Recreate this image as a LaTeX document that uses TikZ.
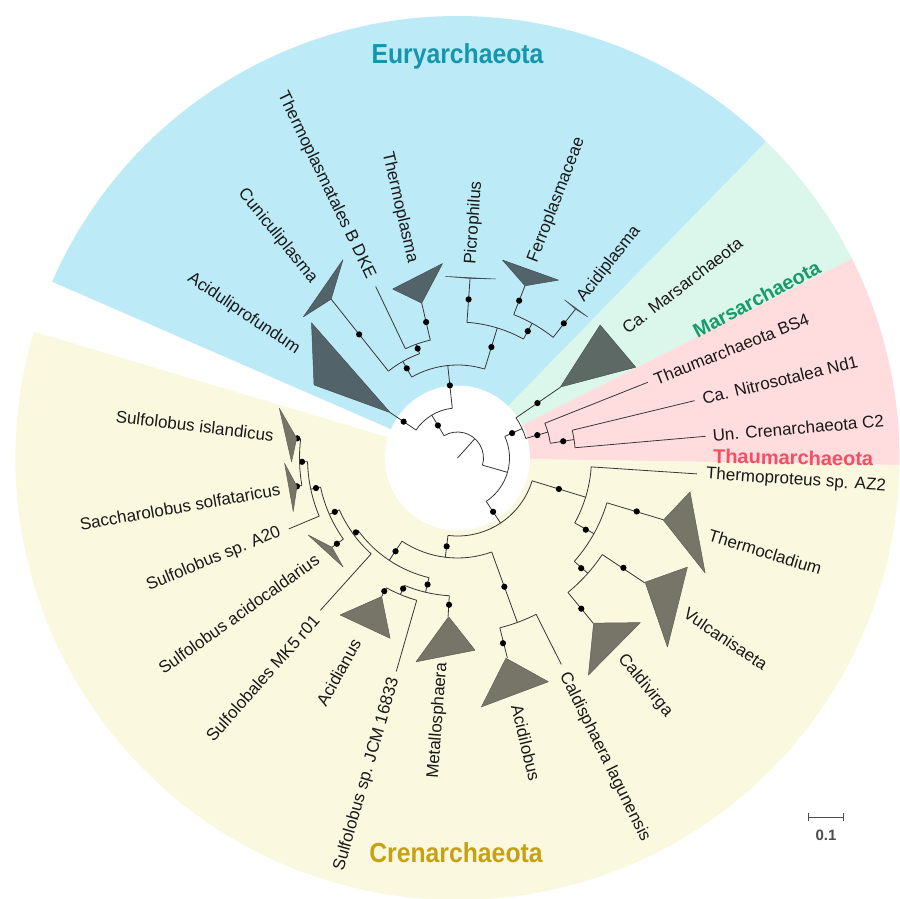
\documentclass[tikz,border=0pt]{standalone}
\usepackage{fontspec}
\setmainfont{Liberation Sans}
\newfontfamily\cladefont[FakeStretch=0.9]{Liberation Sans}
\definecolor{bgeury}{RGB}{189,234,247}
\definecolor{bgmars}{RGB}{219,246,235}
\definecolor{bgthaum}{RGB}{255,221,222}
\definecolor{bgcren}{RGB}{250,248,222}
\definecolor{ceury}{RGB}{20,150,172}
\definecolor{cmars}{RGB}{25,155,105}
\definecolor{cthaum}{RGB}{240,80,100}
\definecolor{ccren}{RGB}{200,160,20}
\definecolor{treec}{RGB}{55,55,55}
\definecolor{trieury}{RGB}{82,100,105}
\definecolor{trimars}{RGB}{92,105,100}
\definecolor{tricren}{RGB}{118,117,104}
\definecolor{lblc}{RGB}{25,25,25}
\newcommand{\trad}[3]{\draw[treeline] (#1:#2) -- (#1:#3);}
\newcommand{\tarc}[3]{\draw[treeline] (#2:#1) arc[start angle=#2, end angle=#3, radius=#1];}
\newcommand{\tdot}[2]{\fill[black] (#1:#2) circle[radius=3.1];}
\newcommand{\ttri}[7]{\filldraw[fill=#1, draw=#1!80!black, line width=0.5pt, line join=round] (#2:#3) -- (#4:#5) -- (#6:#7) -- cycle;}
\newcommand{\lblfont}{\fontsize{17}{20}\selectfont}
\begin{document}
\begin{tikzpicture}[x=1pt,y=1pt,
  treeline/.style={draw=treec, line width=0.8pt},
  lblR/.style={anchor=west, inner sep=0pt, font=\lblfont, text=lblc},
  lblL/.style={anchor=east, inner sep=0pt, font=\lblfont, text=lblc}]
\useasboundingbox (-457.5,-440) rectangle (442.5,458);
\begin{scope}
\clip (-457.5,-440) rectangle (442.5,458);
\fill[white] (-457.5,-440) rectangle (442.5,458);
\fill[bgeury] (0,0) -- (45.7:442) arc[start angle=45.7, end angle=156.5, radius=442] -- cycle;
\fill[bgmars] (0,0) -- (26.8:442) arc[start angle=26.8, end angle=45.7, radius=442] -- cycle;
\fill[bgthaum] (0,0) -- (-0.9:442) arc[start angle=-0.9, end angle=26.8, radius=442] -- cycle;
\fill[bgcren] (0,0) -- (163.4:442) arc[start angle=163.4, end angle=359.1, radius=442] -- cycle;
\fill[white] (0,0) circle[radius=72.5];
\end{scope}

% ---------- tree ----------
% root
\trad{48}{0}{26}
\tarc{26}{121}{-16}
% Euryarchaeota
\trad{121}{26}{50} \tdot{121}{38}
\tarc{50}{146}{96}
\trad{146}{50}{81} \tdot{146}{65}
\ttri{trieury}{146}{81}{137.2}{199}{153}{161}
\trad{96}{50}{93} \tdot{96}{73}
\tarc{93}{119.5}{73}
\trad{119.5}{93}{111} \tdot{119.5}{103}
\tarc{111}{128.5}{110}
\trad{128.5}{111}{203} \tdot{128.5}{158}
\ttri{trieury}{128.5}{203}{120}{229}{137.5}{209}
\trad{110}{111}{121} \tdot{110}{116.5}
\tarc{121}{115.5}{103}
\trad{115.5}{121}{190}
\trad{103}{121}{159} \tdot{103}{139.5}
\ttri{trieury}{103}{159}{111}{181}{94.4}{195}
\trad{73}{93}{136} \tdot{73}{116}
\tarc{136}{86}{61}
\trad{86}{136}{180} \tdot{86}{159}
\ttri{trieury}{86}{180}{93.8}{182}{78}{183}
\trad{61}{136}{154} \tdot{61}{145}
\tarc{154}{68.6}{51.6}
\trad{68.6}{154}{185} \tdot{68.6}{169}
\ttri{trieury}{68.6}{185}{77.2}{203}{60.4}{204.6}
\trad{51.6}{154}{190} \tdot{51.7}{171.6}
\ttri{trieury}{51.6}{190}{55.9}{191}{47.3}{192}
% TACK
\trad{-16}{26}{52}
\tarc{52}{24.5}{-56.5}
\trad{24.5}{52}{71} \tdot{24.5}{60}
\tarc{71}{34.5}{16}
\trad{34.5}{71}{125} \tdot{34.5}{97}
\ttri{trimars}{34.6}{125}{43}{195}{27}{200}
\trad{16}{71}{94} \tdot{16}{83}
\tarc{94}{21.7}{9}
\trad{21.7}{94}{205}
\trad{9}{94}{118} \tdot{9}{107}
\tarc{118}{13.6}{5}
\trad{13.6}{118}{244}
\trad{5}{118}{249}
% Crenarchaeota
\trad{-56.5}{52}{78} \tdot{-56.5}{64.5}
\tarc{78}{-17}{-97}
\trad{-17}{78}{134} \tdot{-17}{106}
\tarc{134}{-3.8}{-29}
\trad{-3.8}{134}{240}
\trad{-29}{134}{156} \tdot{-29.2}{147}
\tarc{156}{-16.7}{-41.5}
\trad{-16.7}{156}{215} \tdot{-16.6}{187}
\ttri{tricren}{-16.8}{215}{-8.3}{235}{-24.9}{273}
\trad{-41.5}{156}{174} \tdot{-41.7}{165.7}
\tarc{174}{-33.7}{-50.6}
\trad{-33.7}{174}{225} \tdot{-33.5}{199}
\ttri{tricren}{-33.5}{225}{-25.4}{254.5}{-42}{282.5}
\trad{-50.6}{174}{214} \tdot{-50.6}{195}
\ttri{tricren}{-50.5}{214}{-42}{246}{-58.9}{253.5}
\trad{-97}{78}{100} \tdot{-97}{89}
\tarc{100}{-70}{-123.7}
\trad{-70}{100}{175} \tdot{-70}{137}
\tarc{175}{-63.3}{-76}
\trad{-76}{175}{206} \tdot{-76.2}{190.7}
\ttri{tricren}{-76.4}{206}{-84.5}{250}{-67.9}{241.5}
\trad{-63.3}{175}{231}
% Sulfolobales
\trad{236.3}{100}{123} \tdot{236.4}{112}
\tarc{123}{216}{256.6}
\trad{256.6}{123}{138} \tdot{256.7}{130}
\tarc{138}{247.3}{266.6}
\trad{266.6}{138}{159} \tdot{266.7}{147}
\ttri{tricren}{266.8}{159}{258.5}{208}{275.2}{193}
\trad{247.3}{138}{148} \tdot{247.4}{141.5}
\tarc{148}{241.3}{254}
\trad{241.3}{148}{158} \tdot{241.2}{152}
\ttri{tricren}{241.3}{158}{233.2}{196}{249.5}{192.5}
\trad{254}{148}{222}
\trad{216}{123}{129} \tdot{216.2}{126}
\tarc{129}{203.7}{228}
\trad{228}{129}{205}
\trad{203.7}{129}{140} \tdot{203.7}{134}
\tarc{140}{192}{215.4}
\trad{215.4}{140}{154} \tdot{215.4}{148}
\ttri{tricren}{215.4}{154}{207.3}{168}{223.6}{158}
\trad{192}{140}{150} \tdot{192}{144.7}
\tarc{150}{181.4}{202.8}
\trad{202.8}{150}{183}
\trad{181.4}{150}{158} \tdot{181.4}{155.5}
\tarc{158}{173}{190}
\trad{173}{158}{162} \tdot{173}{161.5}
\ttri{tricren}{173}{162}{164.4}{185}{181.3}{166}
\trad{190}{158}{163} \tdot{190}{163}
\ttri{tricren}{190}{163}{181.8}{173}{198}{172.7}

% ---------- taxon labels ----------
\node[lblR, rotate=37.5] (l1) at (37.5:210) {Ca. Marsarchaeota};
\node[lblR, rotate=21.7] (l2) at (21.7:212) {Thaumarchaeota BS4};
\node[lblR, rotate=13.6] (l3) at (13.6:252) {Ca. Nitrosotalea Nd1};
\node[lblR, rotate=5] (l4) at (5:256) {Un. Crenarchaeota C2};
\node[lblR, rotate=-3.8] (l5) at (-3.8:249) {Thermoproteus sp. AZ2};
\node[lblR, rotate=-17] (l6) at (-17:263) {Thermocladium};
\node[lblR, rotate=-34] (l7) at (-34:275) {Vulcanisaeta};
\node[lblR, rotate=-50.5] (l8) at (-50.5:257) {Caldivirga};
\node[lblR, rotate=-63.8] (l9) at (-63.8:240) {Caldisphaera lagunensis};
\node[lblR, rotate=-76.5] (l10) at (-76.5:254) {Acidilobus};
\node[lblR, rotate=86] (l11) at (86:194) {Picrophilus};
\node[lblR, rotate=69] (l12) at (69:210) {Ferroplasmaceae};
\node[lblR, rotate=52] (l13) at (52:200) {Acidiplasma};
\node[lblL, rotate=85.7] (l14) at (265.7:205) {Metallosphaera};
\node[lblL, rotate=74] (l15) at (254:229) {Sulfolobus sp. JCM 16833};
\node[lblL, rotate=61] (l16) at (241:208) {Acidianus};
\node[lblL, rotate=48.5] (l17) at (228.5:213) {Sulfolobales MK5 r01};
\node[lblL, rotate=35.5] (l18) at (215.5:172) {Sulfolobus acidocaldarius};
\node[lblL, rotate=22.5] (l19) at (202.5:192) {Sulfolobus sp. A20};
\node[lblL, rotate=10] (l20) at (190:180) {Saccharolobus solfataricus};
\node[lblL, rotate=-7] (l21) at (173:185) {Sulfolobus islandicus};
\node[lblL, rotate=-34] (l22) at (146:192) {Aciduliprofundum};
\node[lblL, rotate=-51] (l23) at (129:228) {Cuniculiplasma};
\node[lblL, rotate=-64.3] (l24) at (115.7:200) {Thermoplasmatales B DKE};
\node[lblL, rotate=-77] (l25) at (103:200) {Thermoplasma};

% ---------- clade labels ----------
\node[anchor=base, inner sep=0pt, text=ceury, font=\cladefont\bfseries\fontsize{27.5}{30}\selectfont] (ceu) at (0,394) {Euryarchaeota};
\node[anchor=base, inner sep=0pt, text=ccren, font=\cladefont\bfseries\fontsize{27.5}{30}\selectfont] (ccr) at (-1.5,-404) {Crenarchaeota};
\node[anchor=west, inner sep=0pt, rotate=28, text=cmars, font=\bfseries\fontsize{20}{24}\selectfont] (cma) at (28:268) {Marsarchaeota};
\node[anchor=west, inner sep=0pt, rotate=-1, text=cthaum, font=\bfseries\fontsize{20}{24}\selectfont] (cth) at (0.4:255.5) {Thaumarchaeota};

% ---------- scale bar ----------
\coordinate (sb1) at (351,-359);
\coordinate (sb2) at (386,-359);
\draw[line width=0.8pt, draw=black!70] (sb1) -- (sb2);
\draw[line width=0.8pt, draw=black!70] ([yshift=-4]sb1) -- ([yshift=4]sb1);
\draw[line width=0.8pt, draw=black!70] ([yshift=-4]sb2) -- ([yshift=4]sb2);
\node[inner sep=0pt, text=black!70, font=\bfseries\fontsize{15}{18}\selectfont] (sbl) at (368.5,-377) {0.1};
\end{tikzpicture}
\end{document}
